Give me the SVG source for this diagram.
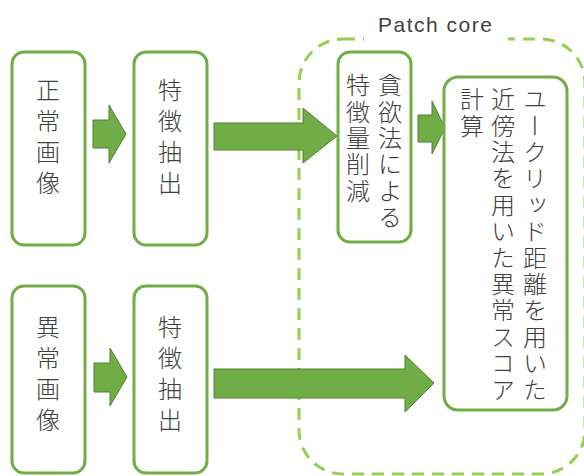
<svg xmlns="http://www.w3.org/2000/svg" width="584" height="476" viewBox="0 0 584 476">
<style>
.box{fill:#fff;stroke:#70AD47;stroke-width:3}
.arr{fill:#70AD47;stroke:#507E32;stroke-width:1}
.v{font-family:"Noto Sans CJK JP","Noto Sans CJK SC",sans-serif;font-size:24px;font-weight:300;fill:#404040;writing-mode:vertical-rl}
.w{letter-spacing:7px}
.n{letter-spacing:2.4px}
</style>
<rect width="584" height="476" fill="#fff"/>
<g id="patchcore">
<rect x="299" y="39" width="286" height="435" rx="44" fill="none" stroke="#92D050" stroke-width="3" stroke-dasharray="12 8"/>
<rect x="364" y="30" width="144" height="16" fill="#fff"/>
<text x="435" y="32" text-anchor="middle" font-family="Liberation Sans, sans-serif" font-size="21" fill="#404040" textLength="114">Patch core</text>
</g>
<g id="connectors">
<polygon class="arr" points="93,120 109,120 109,105 126,134 109,163 109,148 93,148"/>
<polygon class="arr" points="214,123 303,123 303,108 337,136 303,163 303,150 214,150"/>
<polygon class="arr" points="418,115 432,115 432,101 445,128 432,154 432,142 418,142"/>
<polygon class="arr" points="94,363 110,363 110,348 127,377 110,406 110,392 94,392"/>
<polygon class="arr" points="214,369 405,369 405,355 434,383 405,412 405,398 214,398"/>
</g>
<g id="normal">
<rect class="box" x="12" y="52" width="73" height="193" rx="12"/>
<text class="v w" x="48" y="78">正常画像</text>
</g>
<g id="feat1">
<rect class="box" x="134" y="52" width="73" height="193" rx="12"/>
<text class="v w" x="170" y="78">特徴抽出</text>
</g>
<g id="greedy">
<rect class="box" x="338" y="52" width="73" height="190" rx="12"/>
<text class="v n" x="390" y="73">貪欲法による</text>
<text class="v n" x="358" y="73">特徴量削減</text>
</g>
<g id="score">
<rect class="box" x="444" y="77" width="123" height="333" rx="14"/>
<text class="v n" x="535" y="87">ユークリッド距離を用いた</text>
<text class="v n" x="503" y="87">近傍法を用いた異常スコア</text>
<text class="v n" x="472" y="87">計算</text>
</g>
<g id="anomaly">
<rect class="box" x="12" y="286" width="73" height="187" rx="12"/>
<text class="v w" x="48" y="315">異常画像</text>
</g>
<g id="feat2">
<rect class="box" x="134" y="286" width="73" height="187" rx="12"/>
<text class="v w" x="170" y="315">特徴抽出</text>
</g>
</svg>
